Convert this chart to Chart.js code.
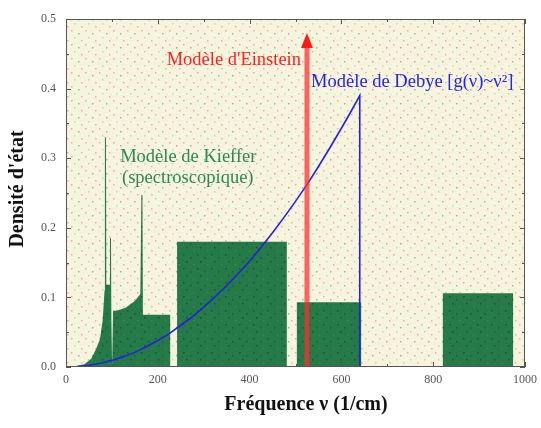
<!DOCTYPE html>
<html>
<head>
<meta charset="utf-8">
<script src="https://cdn.jsdelivr.net/npm/chart.js@4.4.1/dist/chart.umd.min.js"></script>
<style>
  html, body { margin: 0; padding: 0; background: #fff; }
  #wrap { width: 541px; height: 428px; }
</style>
</head>
<body>
<div id="wrap"><canvas id="dos" width="541" height="428"></canvas></div>
<script>
// --- data ---
const xTicks = [0, 200, 400, 600, 800, 1000];
const yTicks = [0.0, 0.1, 0.2, 0.3, 0.4, 0.5];

// Kieffer model (spectroscopic): acoustic peaks + optical blocks
const kiefferNu = [0, 20, 40, 55, 65, 74, 80, 84, 84.8, 87, 87.8, 95, 95.8, 98, 98.8, 100, 100.5, 102, 102.5, 115, 130, 150, 162, 164.3, 166.5, 167.5, 227, 227, 242, 242, 481, 481, 503, 503, 643, 643, 821, 821, 974, 974, 1000];
const kiefferG  = [0, 0.001, 0.004, 0.012, 0.025, 0.04, 0.068, 0.11, 0.33, 0.33, 0.118, 0.118, 0.185, 0.185, 0.07, 0.07, 0, 0, 0.08, 0.082, 0.085, 0.095, 0.105, 0.247, 0.247, 0.075, 0.075, 0, 0, 0.18, 0.18, 0, 0, 0.093, 0.093, 0, 0, 0.106, 0.106, 0, 0];

// Debye model, g(v) ~ v^2 up to the cut-off
const debyeNu = [0, 25, 50, 75, 100, 125, 150, 175, 200, 225, 250, 275, 300, 325, 350, 375, 400, 425, 450, 475, 500, 525, 550, 575, 600, 620, 640, 640, 1000];
const debyeG  = [0, 0.0006, 0.0024, 0.0054, 0.0095, 0.0149, 0.021, 0.029, 0.038, 0.048, 0.06, 0.072, 0.086, 0.101, 0.117, 0.134, 0.152, 0.172, 0.193, 0.215, 0.238, 0.262, 0.288, 0.315, 0.343, 0.366, 0.39, 0, 0];

// Einstein model: single frequency
const einsteinNu = [525, 525];
const einsteinG  = [0, 0.47];
const einsteinTip = 0.48;

const toXY = (xs, ys) => xs.map((x, i) => ({ x: x, y: ys[i] }));

const canvas = document.getElementById('dos');
const ctx = canvas.getContext('2d');

// dotted textures
function makePattern(base, dots) {
    const t = document.createElement('canvas');
    t.width = 14; t.height = 14;
    const c = t.getContext('2d');
    c.fillStyle = base;
    c.fillRect(0, 0, 14, 14);
    dots.forEach(d => {
        c.fillStyle = d[2];
        c.fillRect(d[0], d[1], 1.5, 1.5);
    });
    return ctx.createPattern(t, 'repeat');
}
const bgDots = makePattern('#f6f4dc', [
    [1, 2, '#eeaab2'], [8, 5, '#a9a9b8'], [4, 9, '#b5dcbc'], [11, 12, '#eeaab2']
]);
const greenDots = makePattern('#267a47', [
    [1, 2, '#1b4f45'], [8, 5, '#1d5a3c'], [4, 9, '#1b4f45'], [11, 12, '#2f8a55']
]);

const serif = "'Liberation Serif', 'DejaVu Serif', serif";

const plotDecor = {
    id: 'plotDecor',
    beforeDatasetsDraw(chart) {
        const { ctx, chartArea: a } = chart;
        ctx.save();
        ctx.fillStyle = bgDots;
        ctx.fillRect(a.left, a.top, a.width, a.height);
        ctx.restore();
    },
    afterDatasetsDraw(chart) {
        const { ctx, chartArea: a } = chart;
        const xs = chart.scales.x, ys = chart.scales.y;
        ctx.save();

        // Einstein arrow head
        const ax = xs.getPixelForValue(einsteinNu[0]);
        const ay = ys.getPixelForValue(einsteinTip);
        ctx.fillStyle = '#ff1a1a';
        ctx.beginPath();
        ctx.moveTo(ax, ay);
        ctx.lineTo(ax - 6, ay + 15);
        ctx.lineTo(ax + 6, ay + 15);
        ctx.closePath();
        ctx.fill();

        // frame + inward ticks
        ctx.strokeStyle = '#555';
        ctx.lineWidth = 1;
        ctx.strokeRect(a.left + 0.5, a.top + 0.5, a.width - 1, a.height - 1);
        ctx.beginPath();
        for (let v = 0; v <= 1000; v += 100) {
            const px = Math.round(xs.getPixelForValue(v)) + 0.5;
            const len = v % 200 === 0 ? 5 : 3;
            ctx.moveTo(px, a.bottom); ctx.lineTo(px, a.bottom - len);
            ctx.moveTo(px, a.top); ctx.lineTo(px, a.top + len);
        }
        for (let i = 0; i <= 10; i++) {
            const v = i * 0.05;
            const py = Math.round(ys.getPixelForValue(v)) + 0.5;
            const len = i % 2 === 0 ? 5 : 3;
            ctx.moveTo(a.left, py); ctx.lineTo(a.left + len, py);
            ctx.moveTo(a.right, py); ctx.lineTo(a.right - len, py);
        }
        ctx.stroke();

        // labels
        ctx.textBaseline = 'middle';
        ctx.font = '18.5px ' + serif;
        ctx.fillStyle = '#ff2020';
        ctx.textAlign = 'right';
        ctx.fillText("Modèle d'Einstein", xs.getPixelForValue(512), ys.getPixelForValue(0.441));
        ctx.textAlign = 'left';
        ctx.fillStyle = '#2424e6';
        ctx.fillText('Modèle de Debye [g(ν)~ν²]', xs.getPixelForValue(534), ys.getPixelForValue(0.409));
        ctx.fillStyle = '#2b8a52';
        ctx.fillText('Modèle de Kieffer', xs.getPixelForValue(118), ys.getPixelForValue(0.302));
        ctx.fillText('(spectroscopique)', xs.getPixelForValue(122), ys.getPixelForValue(0.272));

        // axis titles
        ctx.fillStyle = '#111';
        ctx.font = 'bold 20px ' + serif;
        ctx.textAlign = 'center';
        ctx.fillText('Fréquence ν (1/cm)', 306, 405);
        ctx.translate(18, 189);
        ctx.rotate(-Math.PI / 2);
        ctx.fillText("Densité d'état", 0, 0);
        ctx.restore();
    }
};

new Chart(ctx, {
    type: 'line',
    data: {
        datasets: [
            {
                label: 'Einstein',
                data: toXY(einsteinNu, einsteinG),
                borderColor: 'rgba(255, 45, 45, 0.72)',
                borderWidth: 5,
                pointRadius: 0,
                fill: false,
                order: 0
            },
            {
                label: 'Debye',
                data: toXY(debyeNu, debyeG),
                borderColor: '#2222e0',
                borderWidth: 1.6,
                pointRadius: 0,
                tension: 0,
                fill: false,
                order: 1
            },
            {
                label: 'Kieffer',
                data: toXY(kiefferNu, kiefferG),
                borderWidth: 0,
                borderColor: 'rgba(0,0,0,0)',
                backgroundColor: greenDots,
                pointRadius: 0,
                tension: 0,
                fill: 'origin',
                order: 2
            }
        ]
    },
    options: {
        responsive: false,
        animation: false,
        layout: { padding: { top: 19, right: 16, left: 0, bottom: 0 } },
        plugins: {
            legend: { display: false },
            tooltip: { enabled: false }
        },
        scales: {
            x: {
                type: 'linear',
                min: xTicks[0],
                max: xTicks[xTicks.length - 1],
                afterBuildTicks: s => { s.ticks = xTicks.map(v => ({ value: v })); },
                afterFit: s => { s.height = 61; s.paddingLeft = 0; s.paddingRight = 0; },
                grid: { display: false, drawTicks: false },
                border: { display: false },
                ticks: {
                    padding: 6,
                    color: '#555',
                    font: { family: serif, size: 12 },
                    callback: v => String(v)
                }
            },
            y: {
                min: yTicks[0],
                max: yTicks[yTicks.length - 1],
                afterBuildTicks: s => { s.ticks = yTicks.map(v => ({ value: v })); },
                afterFit: s => { s.width = 66; },
                grid: { display: false, drawTicks: false },
                border: { display: false },
                ticks: {
                    padding: 10,
                    color: '#555',
                    font: { family: serif, size: 12 },
                    callback: v => Number(v).toFixed(1)
                }
            }
        }
    },
    plugins: [plotDecor]
});
</script>
</body>
</html>
